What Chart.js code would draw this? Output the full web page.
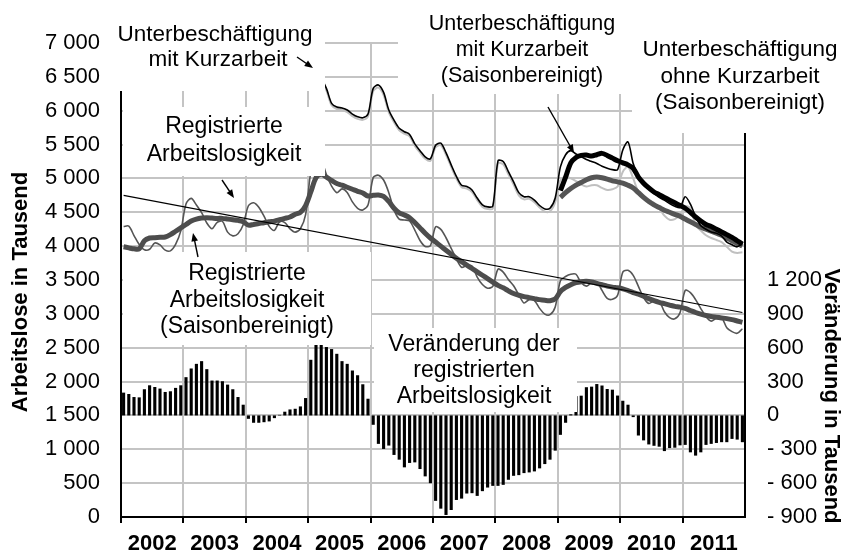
<!DOCTYPE html>
<html>
<head>
<meta charset="utf-8">
<script src="https://cdn.jsdelivr.net/npm/chart.js@4.4.1/dist/chart.umd.min.js"></script>
<style>
  html, body { margin: 0; padding: 0; background: #fff; }
</style>
</head>
<body>
<canvas id="myChart" width="842" height="553"></canvas>
<script>
// months Jan 2002 .. Dec 2011
var years = [2002, 2003, 2004, 2005, 2006, 2007, 2008, 2009, 2010, 2011];
var months = [];
years.forEach(function (y) {
  for (var m = 1; m <= 12; m++) months.push(y + '-' + m);
});

// registrierte Arbeitslosigkeit (Tausend)
var regRaw = [
  4290, 4296, 4156, 4024, 3946, 3954, 4047, 4018, 3942, 3930, 4026, 4225,
  4623, 4706, 4608, 4495, 4342, 4257, 4352, 4367, 4207, 4152, 4184, 4316,
  4597, 4641, 4575, 4443, 4292, 4233, 4360, 4347, 4256, 4207, 4257, 4464,
  5095, 5300, 5274, 5057, 4885, 4790, 4846, 4793, 4653, 4559, 4535, 4608,
  5012, 5048, 4977, 4790, 4535, 4398, 4386, 4372, 4237, 4084, 3995, 4008,
  4284, 4247, 4124, 3967, 3812, 3688, 3715, 3705, 3544, 3434, 3379, 3406,
  3660, 3617, 3507, 3414, 3283, 3160, 3210, 3196, 3081, 2997, 2988, 3102,
  3489, 3552, 3586, 3585, 3458, 3410, 3462, 3472, 3346, 3229, 3215, 3276,
  3617, 3643, 3568, 3406, 3242, 3153, 3192, 3188, 3031, 2945, 2927, 3016,
  3347, 3313, 3210, 3078, 2960, 2893, 2939, 2945, 2796, 2737, 2713, 2780
];

// registrierte Arbeitslosigkeit, saisonbereinigt
var regSA = [
  3990, 3975, 3960, 3960, 4080, 4120, 4125, 4130, 4135, 4170, 4220, 4270,
  4320, 4370, 4400, 4415, 4420, 4415, 4410, 4410, 4400, 4390, 4380, 4360,
  4310, 4320, 4335, 4345, 4360, 4370, 4390, 4410, 4430, 4470, 4500, 4600,
  4800, 5010, 5060, 5020, 4970, 4925, 4900, 4870, 4840, 4810, 4785, 4740,
  4750, 4755, 4735, 4660, 4560, 4490, 4460, 4420, 4350, 4270, 4190, 4120,
  4060, 4000, 3940, 3880, 3820, 3770, 3720, 3670, 3620, 3570, 3520, 3470,
  3420, 3385, 3340, 3300, 3275, 3255, 3240, 3225, 3210, 3200, 3195, 3220,
  3330, 3390, 3430, 3460, 3475, 3480, 3470, 3450, 3430, 3410, 3395, 3385,
  3370, 3345, 3315, 3290, 3260, 3225, 3195, 3170, 3150, 3130, 3110, 3100,
  3080, 3050, 3020, 2995, 2975, 2960, 2950, 2940, 2930, 2915, 2895, 2875
];

// Trendlinie: Wert im ersten und im letzten Monat
var trendEnds = [4750, 3020];

// Veraenderung der registrierten Arbeitslosigkeit (rechte Achse)
var regChange = [
  202, 190, 163, 160, 232, 267, 252, 238, 208, 214, 244, 267,
  339, 416, 457, 481, 410, 309, 309, 303, 273, 232, 163, 95,
  -30, -65, -65, -60, -53, -24, 5, 33, 53, 59, 80, 154,
  493, 659, 699, 606, 588, 546, 481, 457, 398, 356, 276, 148,
  -83, -252, -297, -267, -350, -392, -460, -421, -416, -475, -540, -600,
  -757, -826, -882, -838, -749, -737, -692, -689, -713, -671, -639, -624,
  -624, -615, -570, -535, -529, -511, -505, -496, -469, -431, -392, -312,
  -172, -65, 10, 171, 175, 250, 255, 278, 265, 234, 228, 176,
  130, 95, -15, -178, -221, -257, -269, -277, -316, -289, -286, -265,
  -261, -327, -356, -327, -261, -252, -244, -237, -237, -208, -214, -237
];

// Unterbeschaeftigung ab Jan 2005
var ubStart = '2005-1';
var ubMitRaw = [
  6450, 6600, 6480, 6330, 6110, 6055, 6040, 6010, 5950, 5910, 5895, 5950,
  6330, 6380, 6270, 6010, 5860, 5740, 5690, 5650, 5510, 5410, 5320, 5290,
  5490, 5520, 5380, 5200, 5030, 4900, 4880, 4830, 4710, 4610, 4580, 4590,
  5260, 5250, 5100, 4950, 4790, 4730, 4730, 4680, 4600, 4550, 4560, 4710,
  5170, 5350, 5410, 5360, 5320, 5280, 5250, 5220, 5180, 5150, 5130, 5130,
  5420, 5540, 5220, 5030, 4920, 4840, 4780, 4720, 4680, 4630, 4590, 4570,
  4730, 4620, 4440, 4300, 4250, 4210, 4190, 4150, 4060, 4020, 3990, 4050
];
var ubOhneRaw = [
  6420, 6570, 6450, 6300, 6080, 6025, 6010, 5980, 5920, 5880, 5865, 5915,
  6290, 6340, 6230, 5975, 5830, 5710, 5660, 5620, 5480, 5380, 5290, 5260,
  5460, 5490, 5350, 5170, 5000, 4870, 4850, 4800, 4680, 4580, 4550, 4555,
  5220, 5210, 5060, 4910, 4750, 4690, 4700, 4650, 4570, 4510, 4515, 4650,
  4980, 5020, 5000, 4960, 4910, 4880, 4900, 4900, 4860, 4830, 4840, 4880,
  5100, 5170, 5000, 4800, 4720, 4680, 4640, 4560, 4450, 4390, 4400, 4460,
  4590, 4560, 4310, 4230, 4160, 4120, 4090, 4060, 3990, 3920, 3900, 3910
];

// saisonbereinigt ab Jan 2009
var ubSAStart = '2009-1';
var ubMitSA = [
  4820, 5020, 5230, 5310, 5340, 5345, 5330, 5350, 5370, 5340, 5300, 5260,
  5230, 5200, 5150, 5020, 4930, 4860, 4800, 4760, 4720, 4680, 4640, 4600,
  4560, 4500, 4430, 4370, 4320, 4290, 4250, 4210, 4170, 4130, 4080, 4030
];
var ubOhneSA = [
  4720, 4790, 4850, 4900, 4940, 4980, 5010, 5020, 5010, 4990, 4965, 4950,
  4930, 4900, 4860, 4790, 4720, 4660, 4610, 4570, 4530, 4500, 4470, 4440,
  4400, 4360, 4320, 4280, 4250, 4220, 4190, 4160, 4120, 4080, 4040, 4000
];

var yTicksLeft = { min: 0, max: 7000, step: 500 };
var yTicksRight = { min: -900, max: 3300, step: 300, lastShown: 1200 };

function fromMonth(start, arr) {
  var off = months.indexOf(start);
  return months.map(function (m, i) { return i < off ? null : arr[i - off]; });
}
var trendData = months.map(function (m, i) {
  if (i === 0) return trendEnds[0];
  if (i === months.length - 1) return trendEnds[1];
  return null;
});

function fmt(v) {
  var s = String(Math.abs(v));
  if (s.length > 3) s = s.slice(0, -3) + ' ' + s.slice(-3);
  return (v < 0 ? '- ' : '') + s;
}

var FONT = "'Liberation Sans', Arial, Helvetica, sans-serif";
Chart.defaults.font.family = FONT;
Chart.defaults.color = '#000';

// white label boxes (they sit on top of the plot, like the original)
var boxes = [
  [110, 0, 215, 91],
  [123, 107, 202, 69],
  [123, 252, 248, 93],
  [374, 328, 203, 84],
  [398, 0, 234, 94],
  [632, 0, 210, 133]
];
var notes = [
  { x: 215, y: [35], size: 22.5, t: ['Unterbeschäftigung'] },
  { x: 218, y: [60], size: 22.5, t: ['mit Kurzarbeit'] },
  { x: 224, y: [127, 155], size: 23, t: ['Registrierte', 'Arbeitslosigkeit'] },
  { x: 247, y: [274, 301, 327], size: 23, t: ['Registrierte', 'Arbeitslosigkeit', '(Saisonbereinigt)'] },
  { x: 474, y: [345, 371, 397], size: 23, t: ['Veränderung der', 'registrierten', 'Arbeitslosigkeit'] },
  { x: 522, y: [24, 50, 76], size: 21.5, t: ['Unterbeschäftigung', 'mit Kurzarbeit', '(Saisonbereinigt)'] },
  { x: 740, y: [50, 77, 103], size: 22.5, t: ['Unterbeschäftigung', 'ohne Kurzarbeit', '(Saisonbereinigt)'] }
];
var arrows = [
  [297, 57, 313, 68],
  [222, 180, 234, 198],
  [198, 257, 193, 233],
  [548, 107, 574, 153]
];

function arrow(ctx, a) {
  var ang = Math.atan2(a[3] - a[1], a[2] - a[0]), h = 9;
  ctx.beginPath();
  ctx.moveTo(a[0], a[1]);
  ctx.lineTo(a[2] - Math.cos(ang) * 4, a[3] - Math.sin(ang) * 4);
  ctx.stroke();
  ctx.beginPath();
  ctx.moveTo(a[2], a[3]);
  ctx.lineTo(a[2] - h * Math.cos(ang - 0.38), a[3] - h * Math.sin(ang - 0.38));
  ctx.lineTo(a[2] - h * Math.cos(ang + 0.38), a[3] - h * Math.sin(ang + 0.38));
  ctx.closePath();
  ctx.fill();
}

var labelPlugin = {
  id: 'labels',
  afterDatasetsDraw: function (chart) {
    var ctx = chart.ctx;
    ctx.save();
    ctx.fillStyle = '#fff';
    boxes.forEach(function (b) { ctx.fillRect(b[0], b[1], b[2], b[3]); });
    ctx.fillStyle = '#000';
    ctx.textAlign = 'center';
    ctx.textBaseline = 'middle';
    notes.forEach(function (n) {
      ctx.font = n.size + 'px ' + FONT;
      n.t.forEach(function (s, i) { ctx.fillText(s, n.x, n.y[i]); });
    });
    ctx.strokeStyle = '#000';
    ctx.lineWidth = 1.4;
    arrows.forEach(function (a) { arrow(ctx, a); });
    ctx.restore();
  },
  afterDraw: function (chart) {
    var ctx = chart.ctx;
    ctx.save();
    ctx.fillStyle = '#000';
    ctx.font = 'bold 22px ' + FONT;
    ctx.textAlign = 'center';
    ctx.textBaseline = 'middle';
    ctx.translate(20.5, 292);
    ctx.rotate(-Math.PI / 2);
    ctx.fillText('Arbeitslose in Tausend', 0, 0);
    ctx.restore();
    ctx.save();
    ctx.fillStyle = '#000';
    ctx.font = 'bold 22px ' + FONT;
    ctx.textAlign = 'center';
    ctx.textBaseline = 'middle';
    ctx.translate(831, 396);
    ctx.rotate(Math.PI / 2);
    ctx.fillText('Veränderung in Tausend', 0, 0);
    ctx.restore();
  }
};

function line(data, color, width) {
  return {
    type: 'line', data: data, yAxisID: 'y',
    borderColor: color, borderWidth: width, pointRadius: 0,
    tension: 0.3, fill: false
  };
}

var trend = line(trendData, '#000', 1.2);
trend.spanGaps = true;
trend.tension = 0;

var ctx = document.getElementById('myChart').getContext('2d');
var myChart = new Chart(ctx, {
  type: 'bar',
  data: {
    labels: months,
    datasets: [
      trend,
      line(fromMonth(ubSAStart, ubMitSA), '#000', 5),
      line(fromMonth(ubStart, ubMitRaw), '#000', 1.6),
      line(fromMonth(ubSAStart, ubOhneSA), '#555', 5),
      line(regSA, '#4d4d4d', 5),
      line(regRaw, '#555', 1.6),
      line(fromMonth(ubStart, ubOhneRaw), '#c0c0c0', 2),
      {
        type: 'bar', data: regChange, yAxisID: 'y2',
        backgroundColor: '#000', barPercentage: 0.6, categoryPercentage: 1.0
      }
    ]
  },
  options: {
    responsive: false,
    animation: false,
    layout: { padding: { top: 43, left: 0, right: 0, bottom: 0 } },
    plugins: { legend: { display: false }, tooltip: { enabled: false } },
    scales: {
      x: {
        type: 'category',
        offset: true,
        grid: {
          offset: true,
          lineWidth: 2,
          tickLength: 6,
          color: function (c) { return c.index % 12 === 0 ? '#c4c4c4' : 'rgba(0,0,0,0)'; },
          tickColor: function (c) { return c.index % 12 === 0 ? '#000' : 'rgba(0,0,0,0)'; }
        },
        border: { color: '#000', width: 2 },
        ticks: {
          autoSkip: false, maxRotation: 0, minRotation: 0,
          labelOffset: -2.6, padding: 8,
          font: { size: 22, weight: 'bold' },
          callback: function (v, i) { return i % 12 === 6 ? months[i].slice(0, 4) : ''; }
        },
        afterFit: function (s) { s.height = 36; }
      },
      y: {
        position: 'left',
        min: yTicksLeft.min, max: yTicksLeft.max,
        grid: { color: '#c4c4c4', lineWidth: 2, drawTicks: false },
        border: { color: '#000', width: 2 },
        ticks: {
          stepSize: yTicksLeft.step, padding: 21,
          font: { size: 22 },
          callback: function (v) { return fmt(v); }
        },
        afterFit: function (s) { s.width = 121; }
      },
      y2: {
        position: 'right',
        min: yTicksRight.min, max: yTicksRight.max,
        grid: { display: false, drawTicks: false },
        border: { display: true, color: '#000', width: 2 },
        ticks: {
          stepSize: yTicksRight.step, padding: 22,
          font: { size: 22 },
          callback: function (v) { return v > yTicksRight.lastShown ? '' : fmt(v); }
        },
        afterFit: function (s) { s.width = 97; }
      }
    }
  },
  plugins: [labelPlugin]
});
</script>
</body>
</html>
